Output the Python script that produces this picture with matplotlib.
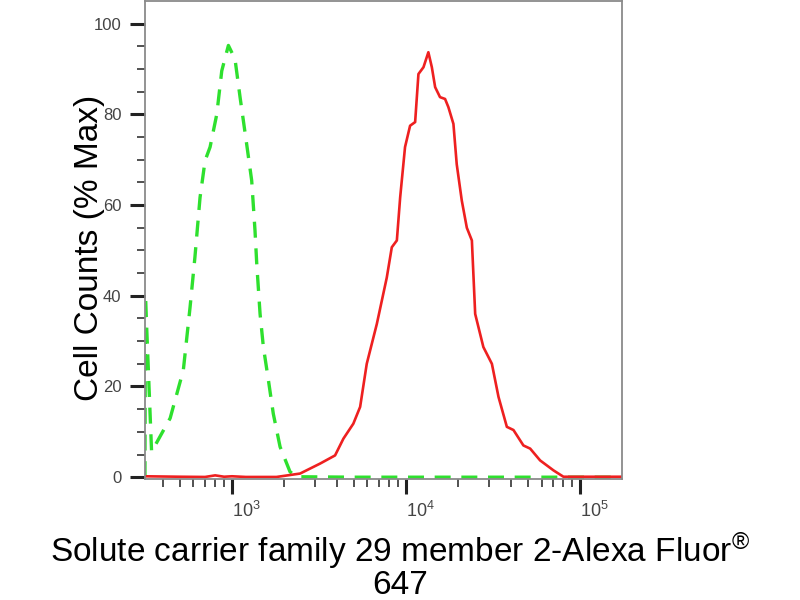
import matplotlib
matplotlib.use("Agg")
import matplotlib.pyplot as plt
from matplotlib.ticker import FixedLocator, NullFormatter

plt.rcParams['font.family'] = ['Liberation Sans', 'DejaVu Sans']
plt.rcParams['mathtext.fontset'] = 'custom'
plt.rcParams['mathtext.rm'] = 'Liberation Sans'
plt.rcParams['mathtext.it'] = 'Liberation Sans'
plt.rcParams['mathtext.bf'] = 'Liberation Sans'

# Isotype control (green dashed)
control_x = [316, 318, 345, 441, 525, 574, 612, 655, 700, 748, 817, 873, 953,
             1040, 1112, 1213, 1297, 1355, 1387, 1449, 1514, 1618, 1726, 1888,
             2153, 2355, 5000, 20000, 60000, 174000]
control_y = [0, 40, 5.6, 13, 23.6, 37.5, 48.5, 61.7, 69.8, 72.8, 80, 89.6, 95.2,
             92.2, 83.8, 73.5, 65.4, 54.4, 47, 36, 28.7, 21.4, 14, 6.7,
             1.2, 0.1, 0, 0, 0, 0]

# Antibody stained sample (red solid)
sample_x = [316, 500, 700, 800, 900, 1000, 1200, 1800, 2000, 2460, 3206, 3908,
            4365, 4977, 5445, 5943, 6792, 7745, 8279, 8851, 9247, 9863, 10544,
            11272, 11776, 12589, 13428, 14060, 14689, 15668, 16749, 17498,
            18707, 19543, 20893, 22336, 23878, 24946, 27797, 31117, 33963,
            37931, 41400, 47206, 51642, 58884, 70307, 80168, 90000, 174000]
sample_y = [0.2, 0.1, 0.05, 0.4, 0.1, 0.2, 0.05, 0.05, 0.3, 0.8, 3, 4.8,
            8.5, 11.8, 15.5, 25, 33.8, 44, 50.7, 52.2, 61.7, 72.8, 77.5,
            78.3, 88.9, 90.4, 93.7, 90.4, 86, 83.8, 83.4, 81.6,
            77.9, 69, 61, 55, 52.2, 36, 28.7, 25, 17.7,
            11.1, 10.4, 7, 6.3, 3.7, 1.5, 0.1, 0.1, 0.1]

y_ticks = [0, 20, 40, 60, 80, 100]
x_ticks = [1e3, 1e4, 1e5]
x_tick_labels = [r'$10^{3}$', r'$10^{4}$', r'$10^{5}$']

fig = plt.figure(figsize=(8, 6), dpi=100)
ax = fig.add_axes([145/800, 1-479/600, (622-145)/800, (479-1)/600])

ax.plot(control_x, control_y, color='#2ee02e', lw=2.4, dashes=(4.8, 3.2))
ax.plot(sample_x, sample_y, color='#ee2020', lw=1.9)

ax.set_xscale('log')
ax.set_xlim(316.2, 174000)
ax.set_ylim(-0.4, 105)

ax.xaxis.set_major_locator(FixedLocator(x_ticks))
ax.set_xticklabels(x_tick_labels)
minors = [m * 10**e for e in range(2, 6) for m in range(2, 10)]
ax.xaxis.set_minor_locator(FixedLocator(minors))
ax.xaxis.set_minor_formatter(NullFormatter())
ax.set_yticks(y_ticks)
ax.set_yticks(range(0, 105, 5), minor=True)

ax.tick_params(which='major', direction='out', length=11, width=2.2,
               color='#222222', labelsize=12, labelcolor='#444444', pad=6)
ax.tick_params(which='minor', direction='out', length=5.5, width=1.1,
               color='#222222')
ax.tick_params(axis='x', which='major', labelsize=13, pad=5)
for lab in ax.get_xticklabels():
    lab.set_horizontalalignment('left')

for s in ax.spines.values():
    s.set_color('#8a8a8a')
    s.set_linewidth(1.3)

fig.text(90/800, 1-248/600, 'Cell Counts (% Max)', rotation=90,
         ha='center', va='center', fontsize=24, color='black')
fig.text(400/800, 1-551/600, 'Solute carrier family 29 member 2-Alexa Fluor$^{®}$',
         ha='center', va='center', fontsize=24, color='black')
fig.text(400/800, 1-585/600, '647', ha='center', va='center', fontsize=24,
         color='black')

fig.savefig('out.png', dpi=100, facecolor='white')
